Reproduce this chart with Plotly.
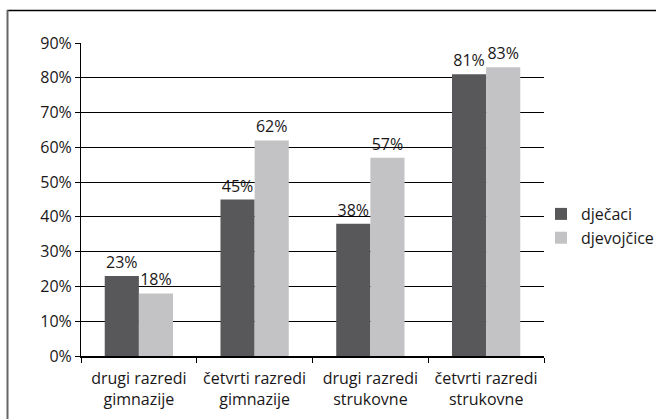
import plotly.graph_objects as go

categories = ["drugi razredi<br>gimnazije", "četvrti razredi<br>gimnazije",
              "drugi razredi<br>strukovne", "četvrti razredi<br>strukovne"]
djecaci = [23, 45, 38, 81]
djevojcice = [18, 62, 57, 83]
tick_vals = [0, 10, 20, 30, 40, 50, 60, 70, 80, 90]
tick_text = [f"{v}%" for v in tick_vals]

W, H = 656, 419
L, R, T, B = 81, 544, 43, 356

def px(x):
    return (x - L) / (R - L)

def py(y):
    return (B - y) / (B - T)

FAM = "Open Sans, Noto Sans, sans-serif"
TXT = "#1a1718"
font = dict(family=FAM, size=16, color=TXT)

fig = go.Figure()
fig.add_trace(go.Bar(
    name="dječaci", x=categories, y=djecaci, marker=dict(color="#58585a", line=dict(width=0)),
    text=[f"{v}%" for v in djecaci], textposition="outside", cliponaxis=False,
    textfont=font,
))
fig.add_trace(go.Bar(
    name="djevojčice", x=categories, y=djevojcice, marker=dict(color="#c3c3c5", line=dict(width=0)),
    text=[f"{v}%" for v in djevojcice], textposition="outside", cliponaxis=False,
    textfont=font,
))

fig.update_layout(
    width=W, height=H,
    margin=dict(l=L, r=W - R, t=T, b=H - B, pad=0, autoexpand=False),
    paper_bgcolor="white", plot_bgcolor="white",
    font=font,
    barmode="group", bargap=0.41, bargroupgap=0,
    showlegend=True,
    legend=dict(x=px(541), y=py(197), xanchor="left", yanchor="top",
                font=dict(family=FAM, size=16, color=TXT),
                tracegroupgap=0, bgcolor="rgba(0,0,0,0)"),
    xaxis=dict(showline=True, linecolor="black", linewidth=1.5, ticks="outside",
               tickson="boundaries", ticklen=5, tickcolor="black", showgrid=False,
               ticklabelstandoff=7,
               tickfont=dict(family=FAM, size=16, color=TXT)),
    yaxis=dict(range=[0, 90], tickvals=tick_vals, ticktext=tick_text, showline=True,
               linecolor="black", linewidth=1, ticks="outside", ticklen=5, tickcolor="black",
               showgrid=True, gridcolor="black", gridwidth=1, zeroline=False,
               tickfont=dict(family=FAM, size=16, color=TXT)),
    shapes=[
        dict(type="line", xref="paper", yref="paper", x0=px(7), x1=px(660), y0=py(10.5), y1=py(10.5),
             line=dict(color="black", width=1.5)),
        dict(type="line", xref="paper", yref="paper", x0=px(7.5), x1=px(7.5), y0=py(10), y1=py(425),
             line=dict(color="#666666", width=2)),
    ],
)

fig.write_html(
    "out.html",
    config={"displayModeBar": False},
    post_script="document.body.style.margin='0';document.body.style.overflow='hidden';",
)
